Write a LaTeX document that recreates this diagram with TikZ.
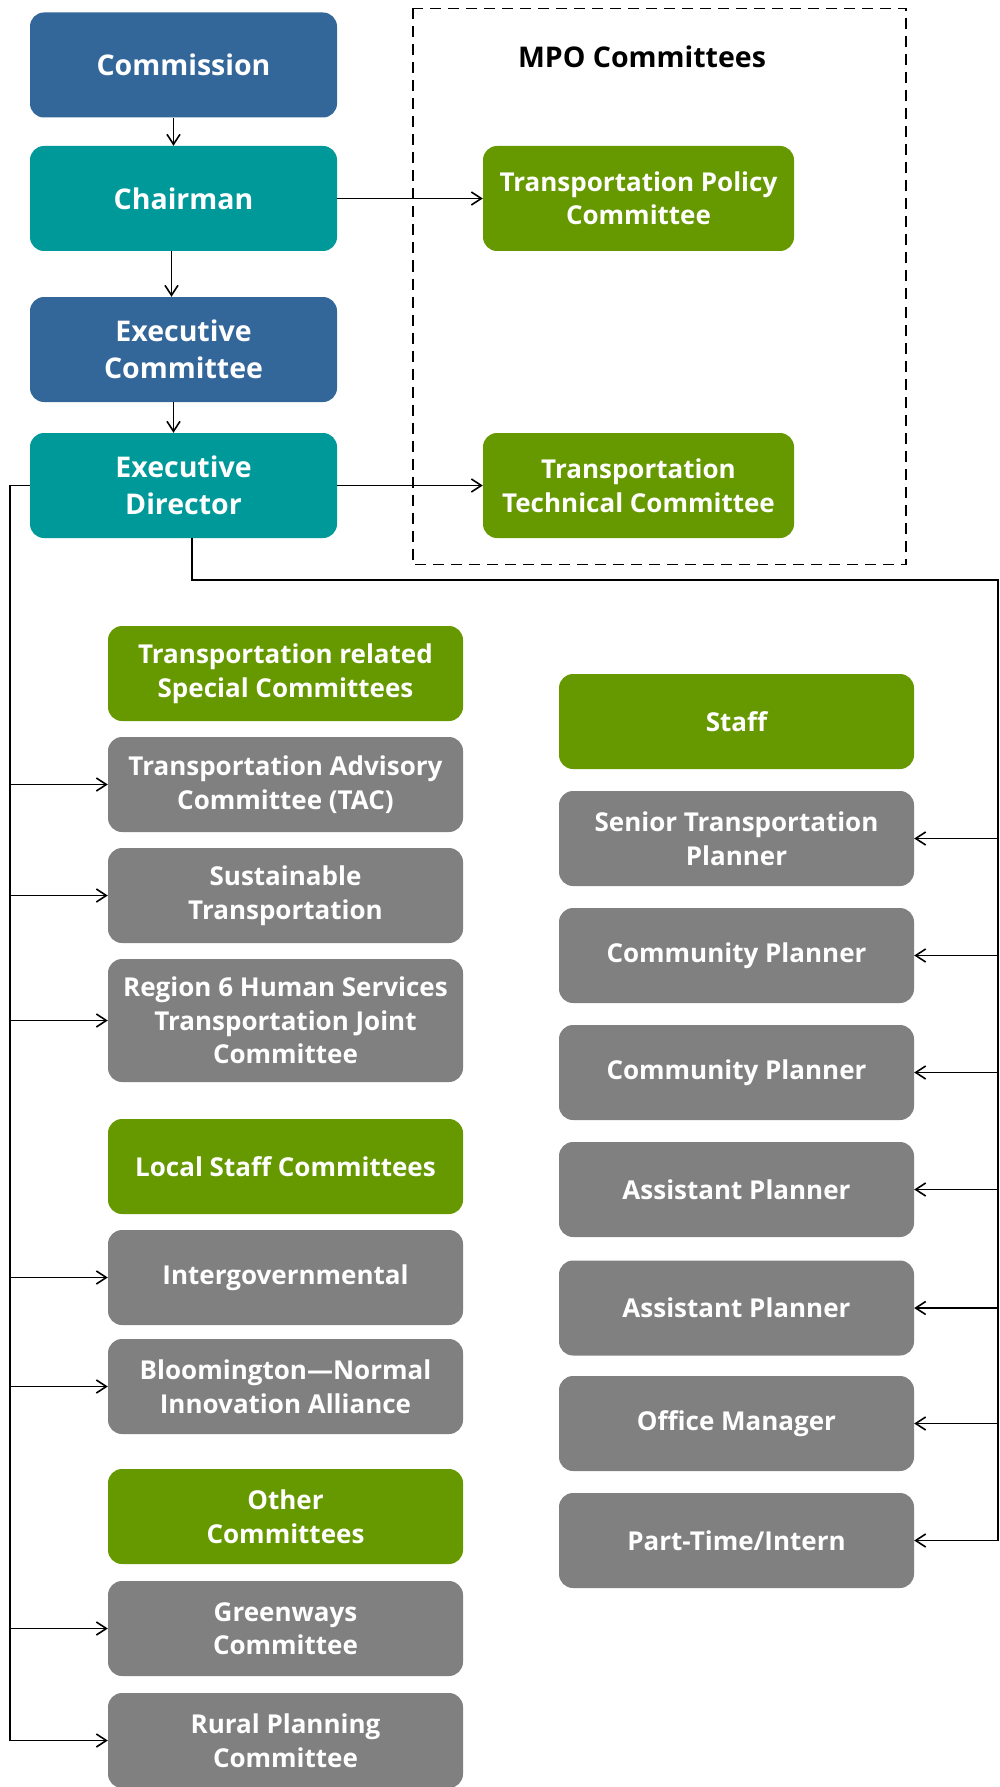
\documentclass[tikz,border=0pt]{standalone}
\usepackage{fontspec}
\setmainfont{Open Sans}
\usepackage{tikz}
\usetikzlibrary{arrows.meta}
\definecolor{MyBlue}{RGB}{51,102,153}
\definecolor{MyTeal}{RGB}{0,153,153}
\definecolor{MyGreen}{RGB}{102,153,0}
\definecolor{MyGrey}{RGB}{128,128,128}
\tikzset{
  box/.style={rounded corners=14pt, text=white, align=center, inner sep=0pt,
    minimum width=355pt, minimum height=95pt,
    font=\fontsize{26}{33.5}\selectfont\bfseries},
  topbox/.style={box, minimum width=307pt, minimum height=105pt,
    font=\fontsize{28.5}{37}\selectfont\bfseries},
  link/.style={->, line width=1.6pt},
  >={Straight Barb[length=10pt,width=13pt]}
}
\begin{document}
\begin{tikzpicture}[x=1pt,y=-1pt]
        \useasboundingbox (0,0) rectangle (1000,1787);
        % top chain
        \node[topbox, fill=MyBlue] (com) at (183.5,65) {Commission};
        \node[topbox, fill=MyTeal] (chair) at (183.5,198.5) {Chairman};
        \node[topbox, fill=MyBlue] (excom) at (183.5,349.5) {Executive\\Committee};
        \node[topbox, fill=MyTeal] (ed) at (183.5,485.5) {Executive\\Director};
        % MPO committees
        \draw [dash pattern=on 11pt off 7pt, line width=1.6pt] (413,8.5) rectangle (906,564.5);
        \node[font=\fontsize{28.5}{37}\selectfont\bfseries] (mpo) at (642,57) {MPO Committees};
        \node[box, fill=MyGreen, minimum width=311pt, minimum height=105pt] (tpc) at (638.5,198.5) {Transportation Policy\\Committee};
        \node[box, fill=MyGreen, minimum width=311pt, minimum height=105pt] (ttc) at (638.5,485.5) {Transportation\\Technical Committee};
        % left column
        \node[box, fill=MyGreen] (trsc) at (285.5,673.5) {Transportation related\\Special Committees};
        \node[box, fill=MyGrey] (tac) at (285.5,784.5) {Transportation Advisory\\Committee (TAC)};
        \node[box, fill=MyGrey] (sust) at (285.5,895.5) {Sustainable\\Transportation};
        \node[box, fill=MyGrey, minimum height=123pt] (region) at (285.5,1020.5) {Region 6 Human Services\\Transportation Joint\\Committee};
        \node[box, fill=MyGreen] (local) at (285.5,1166.5) {Local Staff Committees};
        \node[box, fill=MyGrey] (inter) at (285.5,1277.5) {Intergovernmental};
        \node[box, fill=MyGrey] (bloom) at (285.5,1386.5) {Bloomington---Normal\\Innovation Alliance};
        \node[box, fill=MyGreen] (other) at (285.5,1516.5) {Other\\Committees};
        \node[box, fill=MyGrey] (greenw) at (285.5,1628.5) {Greenways\\Committee};
        \node[box, fill=MyGrey] (rural) at (285.5,1740.5) {Rural Planning\\Committee};
        % right column
        \node[box, fill=MyGreen] (staff) at (736.5,721.5) {Staff};
        \node[box, fill=MyGrey] (senior) at (736.5,838.5) {Senior Transportation\\Planner};
        \node[box, fill=MyGrey] (commA) at (736.5,955.5) {Community Planner};
        \node[box, fill=MyGrey] (commB) at (736.5,1072.5) {Community Planner};
        \node[box, fill=MyGrey] (asstA) at (736.5,1189.5) {Assistant Planner};
        \node[box, fill=MyGrey] (asstB) at (736.5,1308) {Assistant Planner};
        \node[box, fill=MyGrey] (office) at (736.5,1423.5) {Office Manager};
        \node[box, fill=MyGrey] (intern) at (736.5,1540.5) {Part-Time/Intern};
        % connectors
        \draw [link] ([xshift=-10pt]com.south) -- ([xshift=-10pt]chair.north);
        \draw [link] ([xshift=-12pt]chair.south) -- ([xshift=-12pt]excom.north);
        \draw [link] ([xshift=-10pt]excom.south) -- ([xshift=-10pt]ed.north);
        \draw [link] (chair.east) -- (tpc.west);
        \draw [link] (ed.east) -- (ttc.west);
        \coordinate (lbus) at (10,1740.5);
        \coordinate (rbus) at (998,580);
        \draw [link] (ed.west) -| (lbus) -- (rural.west);
        \foreach \n in {tac,sust,region,inter,bloom,greenw}
          \draw [link] (lbus |- \n.west) -- (\n.west);
        \draw [link] ([xshift=8.5pt]ed.south) |- (rbus) |- (intern.east);
        \foreach \n in {senior,commA,commB,asstA,asstB,office}
          \draw [link] (rbus |- \n.east) -- (\n.east);
      \end{tikzpicture}
\end{document}
